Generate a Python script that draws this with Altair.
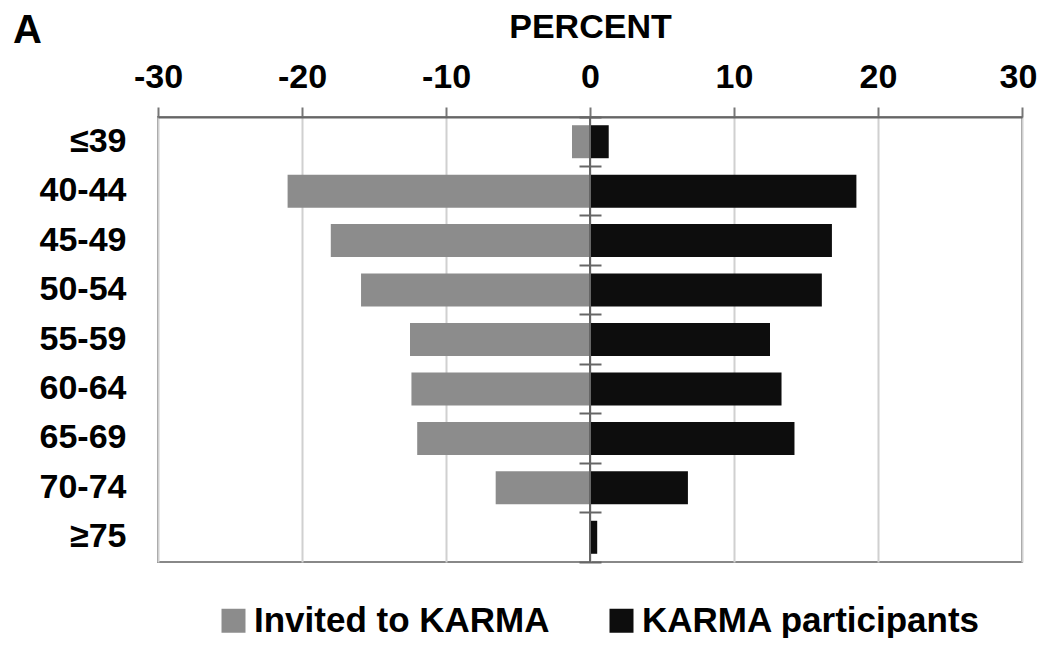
import altair as alt
import pandas as pd

ages = ["≤39", "40-44", "45-49", "50-54", "55-59", "60-64", "65-69", "70-74", "≥75"]
invited = [-1.25, -21.0, -18.0, -15.9, -12.5, -12.4, -12.0, -6.55, -0.05]
participants = [1.3, 18.5, 16.8, 16.1, 12.5, 13.3, 14.2, 6.8, 0.5]
series = ["Invited to KARMA", "KARMA participants"]
x_ticks = [-30, -20, -10, 0, 10, 20, 30]

rows = []
for a, v in zip(ages, invited):
    rows.append({"age": a, "series": series[0], "value": v})
for a, v in zip(ages, participants):
    rows.append({"age": a, "series": series[1], "value": v})
df = pd.DataFrame(rows)

FONT = "Liberation Sans"

xscale = alt.Scale(domain=[-30, 30], nice=False, zero=False)
yscale = alt.Scale(domain=ages, paddingInner=0, paddingOuter=0)

xaxis = alt.Axis(orient="top", title="PERCENT", values=x_ticks,
                 labelExpr="datum.value < 0 ? '-' + (-datum.value) : '' + datum.value",
                 labelFlush=False, labelOverlap=False,
                 labelOffset={"condition": {"test": "datum.value >= 30", "value": -4}, "value": 0},
                 labelFont=FONT, labelFontSize=34, labelFontWeight="bold", labelColor="#000",
                 labelPadding=13, titleFont=FONT, titleFontSize=34, titleFontWeight="bold",
                 titleColor="#000", titlePadding=16,
                 domainColor="#666", domainWidth=2, tickColor="#777", tickWidth=2, tickSize=10,
                 grid=True, gridColor="#d0d0d0", gridWidth=2)

bars = alt.Chart(df).mark_bar(size=33).encode(
    x=alt.X("value:Q", scale=xscale, axis=xaxis, title="PERCENT"),
    y=alt.Y("age:N", scale=yscale, sort=ages,
            axis=alt.Axis(orient="left", title=None, ticks=False, tickSize=0, domain=False,
                          labelFont=FONT, labelFontSize=34, labelFontWeight="bold", labelColor="#000",
                          labelPadding=32, grid=False)),
    color=alt.Color("series:N", scale=alt.Scale(domain=series, range=["#8c8c8c", "#0d0d0d"]),
                    legend=alt.Legend(orient="none", direction="horizontal", title=None,
                                      legendX=58, legendY=486, symbolType="square", symbolSize=576,
                                      symbolStrokeWidth=0, labelFont=FONT, labelFontSize=35,
                                      labelFontWeight="bold", labelColor="#000", labelOffset=3,
                                      labelLimit=600, columnPadding=54)),
)

tick_layer = alt.Chart(df).mark_bar(size=33, opacity=0).encode(
    x=alt.X("value:Q", scale=xscale, axis=xaxis, title="PERCENT"),
    y=alt.Y("age:N", scale=yscale, sort=ages,
            axis=alt.Axis(orient="right", title=None, labels=False, domain=False, grid=False,
                          ticks=True, tickSize=22, tickWidth=2, tickColor="#666",
                          bandPosition=1, tickExtra=True, offset=-443)),
)

zero_rule = alt.Chart(df).mark_rule(color="#666", strokeWidth=2).encode(
    x=alt.X("z:Q", scale=xscale, axis=xaxis, title="PERCENT")
).transform_aggregate(n="count()").transform_calculate(z="0")

chart = alt.layer(bars, tick_layer, zero_rule).resolve_axis(y="independent").properties(
    width=864, height=445,
    autosize=alt.AutoSizeParams(type="none"),
    padding={"left": 150, "top": 109, "right": 16, "bottom": 76},
    title=alt.TitleParams("A", anchor="start", frame="group", dx=-145, dy=45, font=FONT,
                          fontSize=40, fontWeight="bold", color="#000", offset=4),
).configure_view(stroke="#888", strokeWidth=2)

chart.save("out.html", embed_options={"renderer": "svg", "actions": False})
